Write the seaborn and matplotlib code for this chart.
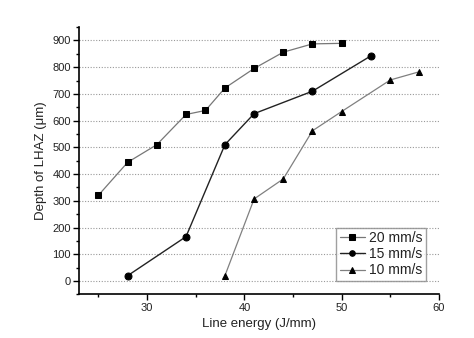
import matplotlib
matplotlib.use("Agg")
import matplotlib.pyplot as plt
import seaborn as sns
import pandas as pd
from matplotlib.ticker import MultipleLocator

x20 = [25, 28, 31, 34, 36, 38, 41, 44, 47, 50]
y20 = [321, 444, 510, 623, 638, 722, 795, 856, 887, 889]
x15 = [28, 34, 38, 41, 47, 53]
y15 = [20, 166, 510, 626, 710, 842]
x10 = [38, 41, 44, 47, 50, 55, 58]
y10 = [20, 307, 382, 562, 634, 752, 783]
labels = ["20 mm/s", "15 mm/s", "10 mm/s"]

sns.set_theme(style="ticks")
plt.rcParams['font.family'] = ['Liberation Sans', 'DejaVu Sans']

fig = plt.figure(figsize=(4.74, 3.38), dpi=100)
ax = fig.add_axes([0.1667, 0.129, 0.926 - 0.1667, 0.92 - 0.129])

series = [(x20, y20, "s", "#777777", 0.9), (x15, y15, "o", "#222222", 1.0), (x10, y10, "^", "#808080", 0.9)]
for (xs, ys, mk, col, lw), lab in zip(series, labels):
    df = pd.DataFrame({"x": xs, "y": ys})
    sns.lineplot(data=df, x="x", y="y", ax=ax, color=col, lw=lw, marker=mk,
                 markersize=5, markerfacecolor="black", markeredgecolor="black",
                 label=lab)

ax.set_xlim(23, 60)
ax.set_ylim(-50, 950)
ax.xaxis.set_major_locator(MultipleLocator(10))
ax.xaxis.set_minor_locator(MultipleLocator(5))
ax.set_xticks([30, 40, 50, 60])
ax.yaxis.set_major_locator(MultipleLocator(100))
ax.yaxis.set_minor_locator(MultipleLocator(50))
ax.set_yticks(range(0, 901, 100))
ax.yaxis.grid(True, which="major", linestyle=(0, (1, 1.5)), color="#999999", lw=0.8)
ax.tick_params(axis="both", which="major", direction="out", length=4, width=1,
               labelsize=8, color="black", labelcolor="#222222", pad=2)
ax.tick_params(axis="both", which="minor", direction="out", length=2.5, width=1, color="black")
for s in ["top", "right"]:
    ax.spines[s].set_visible(False)
for s in ["left", "bottom"]:
    ax.spines[s].set_color("black")
    ax.spines[s].set_linewidth(1.2)
ax.set_xlabel("Line energy (J/mm)", fontsize=9.5, color="#222222", labelpad=4)
ax.set_ylabel("Depth of LHAZ (\u03bcm)", fontsize=9.5, color="#222222", labelpad=4)

leg = ax.legend(loc="lower right", bbox_to_anchor=(0.975, 0.035), fontsize=10,
                frameon=True, fancybox=False, edgecolor="#888888", markerscale=0.8,
                handlelength=1.8, handletextpad=0.3, borderpad=0.25, labelspacing=0.15,
                borderaxespad=0.3)
leg.get_frame().set_linewidth(1.0)
for t in leg.get_texts():
    t.set_color("#222222")

fig.savefig("out.png", dpi=100)
